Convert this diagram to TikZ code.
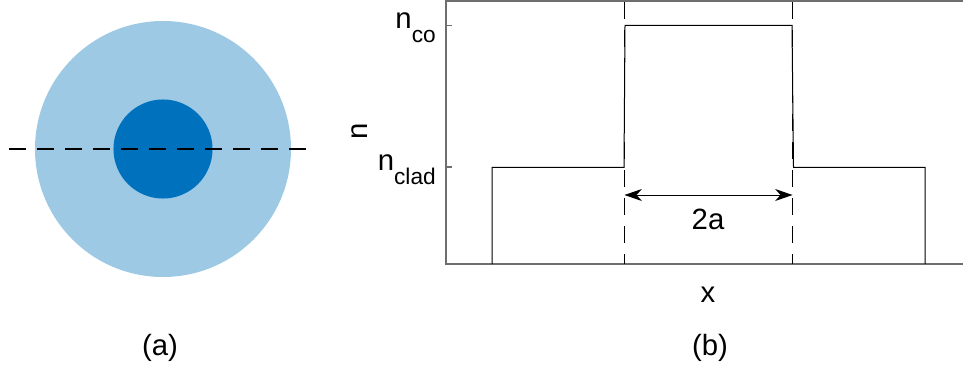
\documentclass[tikz,border=0pt]{standalone}
\usepackage{fontspec}
\setmainfont{Liberation Sans}
\usetikzlibrary{arrows.meta}
\definecolor{cladc}{RGB}{157,201,228}
\definecolor{corec}{RGB}{0,114,189}
\definecolor{axc}{RGB}{110,110,110}
\begin{document}
\begin{tikzpicture}[x=0.75pt,y=-0.75pt,
  lbl/.style={font=\fontsize{22}{24}\selectfont, inner sep=0pt},
  dashln/.style={line width=0.9pt, dash pattern=on 12.75pt off 8.25pt},
  axln/.style={line width=0.9pt, draw=axc},
  prof/.style={line width=0.75pt, black},
  dimarrow/.style={line width=0.75pt, {Stealth[length=13pt,width=9pt,inset=4pt]}-{Stealth[length=13pt,width=9pt,inset=4pt]}}]
\useasboundingbox (0,0) rectangle (963,367);
% (a) fibre cross-section
\node[circle, fill=cladc, minimum size=192pt, inner sep=0pt] (outer) at (163,149) {};
\node[circle, fill=corec, minimum size=74.3pt, inner sep=0pt] (inner) at (163,149) {};
\coordinate (dl) at (9,149);
\coordinate (dr) at (311,149);
\draw[dashln] (dl) -- (dr);
\node[lbl] (capa) at (160,348) {(a)};
% (b) axes
\coordinate (O) at (446,264);
\coordinate (Otop) at (446,1);
\coordinate (Xend) at (963,264);
\coordinate (Ttop) at (963,1);
\draw[axln] (Xend) -- (O) -- (Otop) -- (Ttop);
\coordinate (tco) at (446,25.5);
\coordinate (tcl) at (446,167);
\draw[axln] (tco) -- ++(6,0);
\draw[axln] (tcl) -- ++(6,0);
% profile
\coordinate (p1) at (492,264);
\coordinate (p2) at (492,167.5);
\coordinate (p3) at (624,167.5);
\coordinate (p4) at (625,25.5);
\coordinate (p5) at (792,25.5);
\coordinate (p6) at (793.5,167.5);
\coordinate (p7) at (925,167.5);
\coordinate (p8) at (925,264);
\draw[prof] (p1) -- (p2) -- (p3) -- (p4) -- (p5) -- (p6) -- (p7) -- (p8);
% dashed verticals
\coordinate (v1t) at (624.5,2);
\coordinate (v1b) at (624.5,264);
\coordinate (v2t) at (792.5,2);
\coordinate (v2b) at (792.5,264);
\draw[dashln] (v1t) -- (v1b);
\draw[dashln] (v2t) -- (v2b);
% 2a arrow
\coordinate (a1) at (624.5,195);
\coordinate (a2) at (792.5,195);
\draw[dimarrow] (a1) -- (a2);
\node[lbl] (twoa) at (708,219) {2a};
% labels
\node[lbl, anchor=base east] (nco) at (436,29) {n\raisebox{-10.5pt}{\fontsize{17}{19}\selectfont co}};
\node[lbl, anchor=base east] (ncl) at (436,171) {n\raisebox{-10.5pt}{\fontsize{17}{19}\selectfont clad}};
\node[lbl, rotate=90] (ny) at (360,131) {n};
\node[lbl] (xl) at (708,295) {x};
\node[lbl] (capb) at (710,348) {(b)};
\end{tikzpicture}
\end{document}
